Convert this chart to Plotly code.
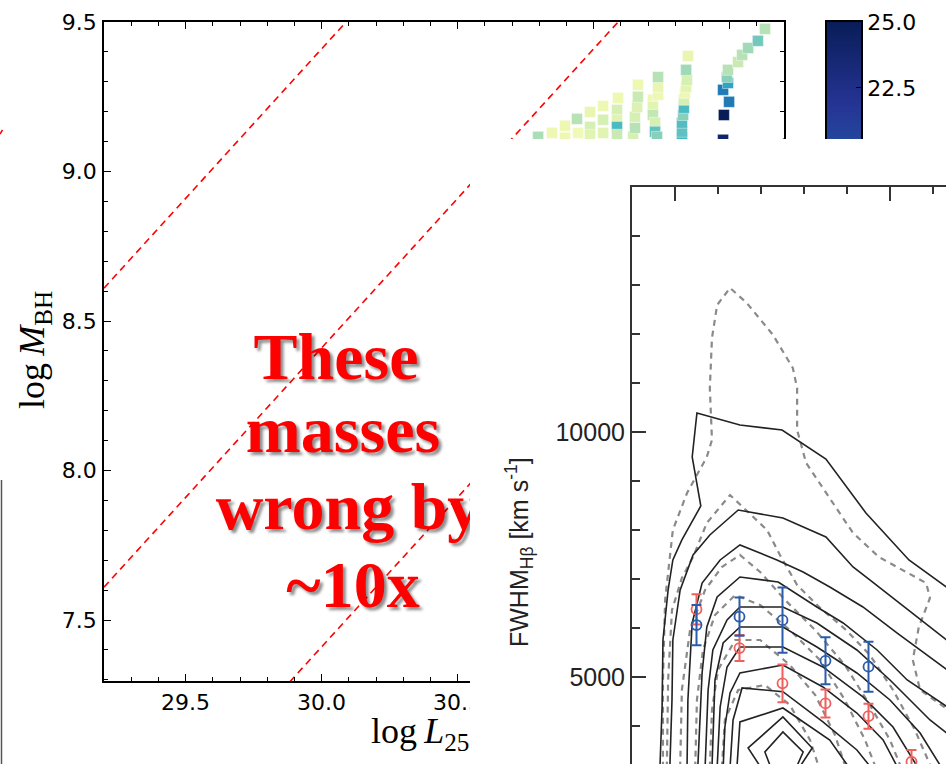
import numpy as np
import plotly.graph_objects as go
from plotly.colors import sequential

W, H = 946, 764

# ------------------------------------------------------------------
# Left panel: log M_BH against log L25 (coloured squares + constant-ratio lines)
# ------------------------------------------------------------------
logL25_pts = [30.796, 30.847, 30.895, 30.895, 30.939, 30.943, 30.987, 30.987, 30.987,
              31.035, 31.035, 31.035, 31.086, 31.086, 31.086, 31.086, 31.090, 31.145,
              31.152, 31.152, 31.160, 31.163, 31.163, 31.218, 31.218, 31.218, 31.226,
              31.226, 31.237, 31.237, 31.237, 31.233, 31.325, 31.325, 31.325, 31.329,
              31.332, 31.332, 31.336, 31.340, 31.343, 31.340, 31.347, 31.476, 31.479,
              31.498, 31.476, 31.494, 31.490, 31.494, 31.531, 31.546, 31.568, 31.604,
              31.630]
logMBH_pts = [9.116, 9.129, 9.153, 9.113, 9.176, 9.129, 9.199, 9.149, 9.123,
              9.219, 9.173, 9.129, 9.206, 9.173, 9.149, 9.123, 9.246, 9.116,
              9.146, 9.183, 9.216, 9.250, 9.290, 9.240, 9.216, 9.189, 9.163,
              9.133, 9.256, 9.283, 9.316, 9.116, 9.113, 9.133, 9.163, 9.189,
              9.213, 9.240, 9.263, 9.283, 9.306, 9.340, 9.386, 9.106, 9.189,
              9.233, 9.273, 9.296, 9.316, 9.340, 9.366, 9.390, 9.413, 9.437,
              9.477]
colour_pts = [7.5, 3, 3, 3, 7, 2.5, 3.5, 5, 4,
              3, 5, 4, 5, 4, 12, 6, 3, 5,
              7, 5, 4.5, 6, 3, 3, 4, 6.5, 5,
              11, 3, 3.5, 7, 9, 12.5, 11, 11.5, 9,
              12, 5, 3, 4, 5, 8, 3.5, 24, 25,
              17, 17, 14, 9, 7, 6, 7, 8, 10,
              7]
# log M = log L + c, one line per decade
line_intercepts = [-20.59, -21.59, -22.59]
cbar_min, cbar_max = 0.0, 25.0
cbar_ticks = [22.5, 25.0]

headline = ["These", "masses", "wrong by", "~10x"]

# ------------------------------------------------------------------
# Right panel: FWHM(Hbeta) in luminosity bins with density contours
# ------------------------------------------------------------------
bin_logL = [45.05, 45.15, 45.25, 45.35, 45.45, 45.55]
fwhm_blue = [6060, 6230, 6160, 5330, 5210]
err_blue = [410, 390, 665, 480, 510]
fwhm_red = [6380, 5590, 4870, 4460, 4200, 3270]
err_red = [310, 265, 385, 285, 255, 240]
fwhm_ticks = [5000, 10000]

solid_contours = [
    ([44.965, 44.970, 44.972, 44.984, 44.995, 45.016, 45.060, 45.040, 45.051, 45.151,
      45.249, 45.267, 45.351, 45.444, 45.544, 45.640],
     [3150, 4388, 5755, 6776, 7388, 7796, 8490, 9490, 10388, 10143,
      10041, 9939, 9449, 8347, 7388, 6780]),
    ([44.988, 44.993, 44.995, 45.012, 45.042, 45.081, 45.147, 45.251, 45.351, 45.414,
      45.453, 45.553, 45.640],
     [3150, 4531, 5755, 6776, 7490, 7898, 8408, 8245, 7857, 7245,
      6980, 6306, 5700]),
    ([45.028, 45.030, 45.040, 45.063, 45.105, 45.151, 45.237, 45.298, 45.360, 45.437,
      45.516, 45.640],
     [3150, 4531, 6102, 6918, 7388, 7694, 7388, 7143, 6837, 6429,
      5898, 5100]),
    ([45.053, 45.063, 45.074, 45.098, 45.151, 45.240, 45.330, 45.391, 45.470, 45.540,
      45.640],
     [3150, 5082, 6020, 6633, 7041, 6939, 6429, 6102, 5551, 4939,
      4350]),
    ([45.070, 45.077, 45.088, 45.121, 45.151, 45.251, 45.330, 45.423, 45.500, 45.593,
      45.640],
     [3150, 4735, 5551, 6163, 6429, 6429, 6102, 5551, 4939, 4122,
      3800]),
    ([45.086, 45.093, 45.112, 45.151, 45.251, 45.330, 45.423, 45.500, 45.570, 45.620],
     [3150, 4939, 5694, 6020, 6020, 5612, 5082, 4531, 3857, 3150]),
    ([45.098, 45.105, 45.121, 45.151, 45.251, 45.344, 45.437, 45.507, 45.565],
     [3150, 4388, 5204, 5612, 5612, 5204, 4592, 3980, 3150]),
    ([45.112, 45.116, 45.128, 45.151, 45.251, 45.344, 45.423, 45.484, 45.518],
     [3150, 3980, 4673, 5082, 5245, 4796, 4265, 3714, 3150]),
    ([45.128, 45.135, 45.156, 45.251, 45.344, 45.423, 45.456],
     [3150, 4122, 4776, 4700, 4082, 3510, 3150]),
    ([45.144, 45.151, 45.251, 45.360, 45.405],
     [3150, 4082, 4367, 3714, 3150]),
    ([45.200, 45.170, 45.251, 45.319, 45.289],
     [3150, 3551, 4184, 3551, 3150]),
    ([45.223, 45.209, 45.251, 45.298, 45.282],
     [3150, 3469, 3878, 3469, 3150]),
]

dashed_contours = [
    ([44.972, 44.972, 44.977, 44.988, 44.995, 45.028, 45.074, 45.086, 45.081, 45.086,
      45.098, 45.128, 45.167, 45.228, 45.274, 45.284, 45.284, 45.305, 45.351, 45.414,
      45.474, 45.530, 45.584, 45.593, 45.567, 45.553, 45.570, 45.640],
     [3150, 4939, 6571, 7490, 8000, 8755, 9490, 9837, 10898, 11918,
      12592, 12939, 12633, 11980, 11306, 10898, 10041, 9367, 8755, 7939,
      7449, 7184, 6918, 6612, 6020, 5347, 4735, 4300]),
    ([44.981, 44.984, 44.993, 45.016, 45.042, 45.074, 45.128, 45.158, 45.214, 45.244,
      45.284, 45.335, 45.398, 45.453, 45.507, 45.558, 45.596],
     [3150, 4939, 6367, 7020, 7449, 8143, 8714, 8469, 8000, 7490,
      6878, 6429, 5959, 5449, 4735, 3918, 3150]),
    ([45.012, 45.016, 45.035, 45.070, 45.109, 45.151, 45.198, 45.256, 45.326, 45.395,
      45.453, 45.500, 45.526],
     [3150, 4735, 5959, 6776, 7245, 7490, 7143, 6571, 5959, 5245,
      4429, 3714, 3150]),
    ([45.047, 45.051, 45.065, 45.093, 45.140, 45.198, 45.267, 45.337, 45.395, 45.442,
      45.467],
     [3150, 4531, 5551, 6265, 6673, 6469, 5959, 5347, 4531, 3714,
      3150]),
    ([45.081, 45.086, 45.100, 45.140, 45.198, 45.267, 45.326, 45.372, 45.397],
     [3150, 4327, 5143, 5755, 5755, 5245, 4633, 3816, 3150]),
    ([45.109, 45.116, 45.147, 45.209, 45.267, 45.314, 45.335],
     [3150, 4122, 4735, 4837, 4429, 3714, 3150]),
]

# ------------------------------------------------------------------
# Page geometry (pixels) and axis ranges
# ------------------------------------------------------------------
LX = [29.2, 31.7]
LY = [7.296, 9.5]
PX0, PX1, PY0, PY1 = 104, 784, 22, 681   # frame of the left panel
CUT_X, CUT_Y = 470, 139                  # where the right-hand figure overlaps it


def lx(px):
    return LX[0] + (px - PX0) / (PX1 - PX0) * (LX[1] - LX[0])


def ly(py):
    return LY[1] - (py - PY0) / (PY1 - PY0) * (LY[1] - LY[0])


def fx(px):
    return px / W


def fy(py):
    return 1 - py / H


ylgnbu = [[i / (len(sequential.YlGnBu) - 1), c] for i, c in enumerate(sequential.YlGnBu)]

fig = go.Figure()

# constant mass-to-light lines, drawn in both pieces of the left panel
line_x = [LX[0], LX[1]]
for c in line_intercepts:
    for xa, ya in (("x", "y"), ("x2", "y2")):
        fig.add_trace(go.Scatter(
            x=line_x, y=[v + c for v in line_x], mode="lines",
            line=dict(color="#ff0000", width=1.6, dash="7px,5px"),
            xaxis=xa, yaxis=ya, hoverinfo="skip"))

fig.add_trace(go.Scatter(
    x=logL25_pts, y=logMBH_pts, mode="markers", xaxis="x2", yaxis="y2",
    marker=dict(symbol="square", size=11, color=colour_pts, colorscale=ylgnbu,
                cmin=cbar_min, cmax=cbar_max,
                line=dict(width=0.6, color="rgba(255,255,255,0.7)")),
    cliponaxis=True, hoverinfo="skip"))

# colour bar drawn as a one-column heatmap
cb_vals = np.linspace(cbar_min, cbar_max, 400)
fig.add_trace(go.Heatmap(
    z=[[v] for v in cb_vals], x=[0], y=cb_vals, colorscale=ylgnbu,
    zmin=cbar_min, zmax=cbar_max, showscale=False, xaxis="x3", yaxis="y3",
    hoverinfo="skip"))

# headline over the left panel, clipped at the panel edge
head_px = [336, 343, 348, 353]
head_py = [362, 435, 512, 590]
fig.add_trace(go.Scatter(
    x=[lx(p) for p in head_px], y=[ly(p) for p in head_py], text=headline,
    mode="text", textposition="middle center", xaxis="x", yaxis="y",
    cliponaxis=True, hoverinfo="skip",
    textfont=dict(family="Liberation Serif", size=66, color="#ff0000",
                  weight="bold", shadow="3px 3px 3px rgba(0,0,0,0.45)")))

# right panel contours
for xs, ys in dashed_contours:
    fig.add_trace(go.Scatter(x=xs, y=ys, mode="lines", xaxis="x4", yaxis="y4",
                             line=dict(color="#8a8a8a", width=2.2, dash="6px,5px"),
                             hoverinfo="skip"))
for xs, ys in solid_contours:
    fig.add_trace(go.Scatter(x=xs, y=ys, mode="lines", xaxis="x4", yaxis="y4",
                             line=dict(color="#222222", width=1.6),
                             hoverinfo="skip"))

RED, BLUE = "#f0605c", "#2a5caa"
fig.add_trace(go.Scatter(
    x=bin_logL[:len(fwhm_red)], y=fwhm_red, mode="markers", xaxis="x4", yaxis="y4",
    marker=dict(symbol="circle-open", size=10, color=RED, line=dict(width=1.8)),
    error_y=dict(type="data", array=err_red, color=RED, thickness=2, width=5),
    hoverinfo="skip"))
fig.add_trace(go.Scatter(
    x=bin_logL[:len(fwhm_blue)], y=fwhm_blue, mode="markers", xaxis="x4", yaxis="y4",
    marker=dict(symbol="circle-open", size=10, color=BLUE, line=dict(width=1.8)),
    error_y=dict(type="data", array=err_blue, color=BLUE, thickness=2, width=5),
    hoverinfo="skip"))

tick_font = dict(family="DejaVu Sans", size=22, color="black")
mpl_axis = dict(showline=True, linecolor="black", linewidth=1.5, ticks="inside",
                ticklen=7, tickwidth=1.3, tickcolor="black", showgrid=False,
                zeroline=False, dtick=0.5, automargin=False,
                minor=dict(dtick=0.1, ticks="inside", ticklen=4, tickwidth=1.3,
                           tickcolor="black", showgrid=False))

fig_axis = dict(showline=True, linecolor="#333333", linewidth=2, ticks="inside",
                ticklen=14, tickwidth=2, tickcolor="#333333", showgrid=False,
                zeroline=False, automargin=False)

fig.update_layout(
    template="none",
    width=W, height=H, margin=dict(l=0, r=0, t=0, b=0, pad=0), autosize=False,
    paper_bgcolor="white", plot_bgcolor="white", showlegend=False, hovermode=False,
    xaxis=dict(mpl_axis, domain=[fx(PX0), fx(CUT_X)], range=[LX[0], lx(CUT_X)],
               anchor="y", mirror="ticks", tick0=29.5, tickformat=".1f",
               tickfont=tick_font, ticklabelstandoff=1),
    yaxis=dict(mpl_axis, domain=[fy(PY1), fy(PY0)], range=LY, anchor="x",
               tick0=7.5, tickformat=".1f", tickfont=tick_font, ticklabelstandoff=1),
    xaxis2=dict(mpl_axis, domain=[fx(CUT_X), fx(PX1)], range=[lx(CUT_X), LX[1]],
                anchor="y2", side="top", tick0=29.5, showticklabels=False),
    yaxis2=dict(mpl_axis, domain=[fy(CUT_Y), fy(PY0)], range=[ly(CUT_Y), LY[1]],
                anchor="x2", side="right", tick0=7.5, showticklabels=False),
    xaxis3=dict(domain=[fx(827), fx(861)], range=[-0.5, 0.5], anchor="y3", side="top",
                showline=True, linecolor="black", linewidth=1.5, showticklabels=False,
                ticks="", showgrid=False, zeroline=False, automargin=False),
    yaxis3=dict(domain=[fy(CUT_Y), fy(PY0)],
                range=[cbar_max - (CUT_Y - PY0) / (PY1 - PY0) * (cbar_max - cbar_min), cbar_max],
                anchor="x3", side="right", showline=True, mirror=True, linecolor="black",
                linewidth=1.5, ticks="inside", ticklen=5, tickcolor="black",
                tickvals=cbar_ticks, tickformat=".1f", tickfont=tick_font,
                showgrid=False, zeroline=False, automargin=False),
    xaxis4=dict(fig_axis, domain=[fx(632), 1.0], range=[44.9, 44.9 + (W - 632) / 430],
                anchor="y4", side="top", dtick=0.5, tick0=45.0, showticklabels=False,
                minor=dict(dtick=0.1, ticks="inside", ticklen=7, tickwidth=2,
                           tickcolor="#333333", showgrid=False)),
    yaxis4=dict(fig_axis, domain=[0.0, fy(187)], range=[3224, 15000], anchor="x4",
                tickvals=fwhm_ticks, tickformat="d",
                tickfont=dict(family="Liberation Sans", size=25, color="#222222"),
                minor=dict(dtick=1000, tick0=0, ticks="inside", ticklen=8, tickwidth=2,
                           tickcolor="#333333", showgrid=False)),
    annotations=[
        dict(text="log\u2009<i>M</i><sub>BH</sub>", x=fx(35), y=fy(350), xref="paper",
             yref="paper", textangle=-90, showarrow=False, xanchor="center",
             yanchor="middle", font=dict(family="Liberation Serif", size=36, color="black")),
        dict(text="log\u2009<i>L</i><sub>25</sub>", x=fx(471), y=fy(733), xref="paper",
             yref="paper", showarrow=False, xanchor="right", yanchor="middle",
             font=dict(family="Liberation Serif", size=36, color="black")),
        dict(text="FWHM<sub>H\u03b2</sub> [km s<sup>-1</sup>]", x=fx(519), y=fy(552),
             xref="paper", yref="paper", textangle=-90, showarrow=False,
             xanchor="center", yanchor="middle",
             font=dict(family="Liberation Sans", size=25, color="#222222")),
    ],
    shapes=[
        # the right-hand figure sits over the end of the left panel's tick labels
        dict(type="rect", xref="paper", yref="paper", x0=fx(469.5), x1=fx(530),
             y0=fy(713), y1=fy(683), fillcolor="white", line=dict(width=0), layer="above"),
        # edge of a neighbouring figure
        dict(type="line", xref="paper", yref="paper", x0=fx(1.5), x1=fx(1.5),
             y0=fy(480), y1=fy(764), line=dict(color="#555555", width=1.5)),
        dict(type="line", xref="paper", yref="paper", x0=fx(0), x1=fx(2.5),
             y0=fy(134), y1=fy(130), line=dict(color="#ff0000", width=1.5)),
    ],
)

fig.write_html("out.html")
